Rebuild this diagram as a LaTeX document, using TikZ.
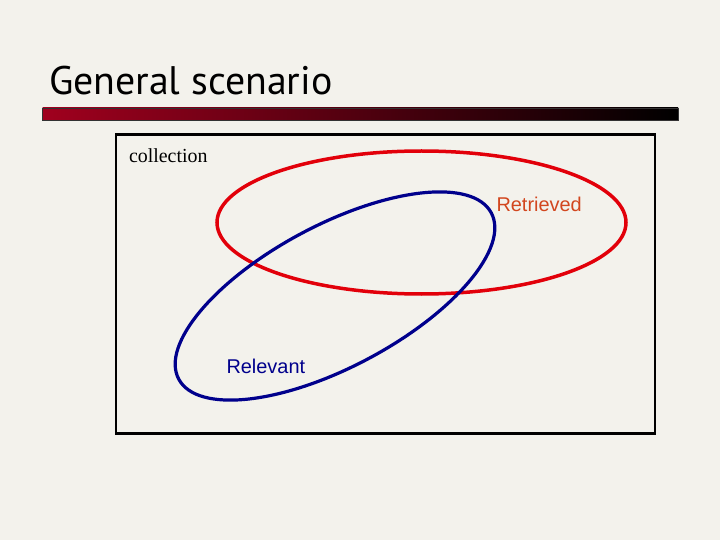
\documentclass[tikz,border=0pt]{standalone}
\usepackage{fontspec}
\setmainfont{Liberation Serif}
\newfontfamily\titlefont{PT Sans}
\newfontfamily\labelfont{Liberation Sans}
\definecolor{slidebg}{RGB}{243,242,236}
\definecolor{barred}{RGB}{160,0,30}
\definecolor{retcol}{RGB}{226,0,10}
\definecolor{rettext}{RGB}{210,70,30}
\definecolor{relcol}{RGB}{0,0,140}

\begin{document}
\begin{tikzpicture}[x=1bp,y=-1bp]
\fill[slidebg] (0,0) rectangle (720,540);
\useasboundingbox (0,0) rectangle (720,540);
\begin{scope}[inner sep=0pt,outer sep=0pt]
\node[anchor=base west] (title) at (49,95) {\titlefont\fontsize{40}{44}\selectfont General scenario};
\shade[left color=barred,right color=black,draw=black!80,line width=0.4bp] (42.5,108) rectangle (678,120.5);
\draw[line width=2.3bp] (116,134.5) rectangle (655,433.5);
\node[anchor=base west] (coll) at (129,163) {\fontsize{20}{24}\selectfont collection};
\end{scope}
% the two sets
\draw[retcol,line width=3.5bp] (421.5,222.5) ellipse [x radius=204.5, y radius=71.5];
\draw[relcol,line width=3.2bp,rotate around={28:(335,296)}] (335,296) ellipse [x radius=177, y radius=71];
\begin{scope}[inner sep=0pt,outer sep=0pt]
\node[anchor=base west,text=rettext] (ret) at (496.5,211.5) {\labelfont\fontsize{20}{24}\selectfont Retrieved};
\node[anchor=base west,text=relcol] (rel) at (226.5,373) {\labelfont\fontsize{20}{24}\selectfont Relevant};
\end{scope}
\end{tikzpicture}
\end{document}
